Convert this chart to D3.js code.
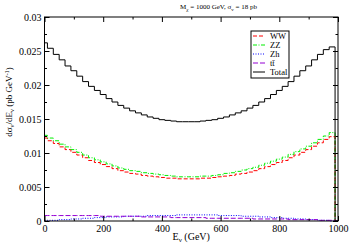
<!DOCTYPE html>
<html>
<head>
<meta charset="utf-8">
<script src="https://cdn.jsdelivr.net/npm/d3@7"></script>
<style>
  body { margin: 0; background: #fff; }
  svg { font-family: "Liberation Serif", "DejaVu Serif", serif; }
</style>
</head>
<body>
<script>
// energy bins (GeV), one point every 20 GeV, drawn as centred steps
const energies = d3.range(0, 1001, 20);

const total = [0.0262, 0.0254, 0.0245, 0.0237, 0.0228, 0.0221, 0.0213, 0.0205, 0.0198, 0.0192,
  0.0186, 0.0180, 0.0175, 0.0170, 0.0166, 0.0162, 0.0159, 0.0156, 0.0153, 0.0151,
  0.0149, 0.0148, 0.0147, 0.0146, 0.0146, 0.0146, 0.0146, 0.0147, 0.0148, 0.0149,
  0.0151, 0.0153, 0.0156, 0.0159, 0.0162, 0.0166, 0.0170, 0.0175, 0.0180, 0.0186,
  0.0192, 0.0198, 0.0205, 0.0213, 0.0221, 0.0228, 0.0237, 0.0245, 0.0252, 0.0256, 0];

const ww = [0.0122, 0.0118, 0.0114, 0.0109, 0.0105, 0.0101, 0.0097, 0.0093, 0.0089, 0.0086,
  0.0083, 0.0080, 0.0077, 0.0074, 0.0072, 0.0070, 0.0069, 0.0067, 0.0066, 0.0065,
  0.0064, 0.0063, 0.0063, 0.0062, 0.0062, 0.0062, 0.0062, 0.0063, 0.0063, 0.0064,
  0.0065, 0.0066, 0.0067, 0.0069, 0.0070, 0.0072, 0.0074, 0.0077, 0.0080, 0.0083,
  0.0086, 0.0089, 0.0093, 0.0097, 0.0101, 0.0105, 0.0110, 0.0115, 0.0120, 0.0124, 0];

const zz = [0.0126, 0.0122, 0.0118, 0.0113, 0.0109, 0.0105, 0.0101, 0.0097, 0.0093, 0.0090,
  0.0087, 0.0084, 0.0081, 0.0078, 0.0076, 0.0074, 0.0073, 0.0071, 0.0070, 0.0069,
  0.0068, 0.0067, 0.0066, 0.0065, 0.0065, 0.0065, 0.0065, 0.0066, 0.0066, 0.0067,
  0.0068, 0.0070, 0.0071, 0.0073, 0.0075, 0.0077, 0.0079, 0.0082, 0.0085, 0.0088,
  0.0091, 0.0094, 0.0098, 0.0102, 0.0106, 0.0110, 0.0115, 0.0120, 0.0125, 0.0130, 0];

const zh = [0.0001, 0.0001, 0.0001, 0.0002, 0.0002, 0.0003, 0.0003, 0.0004, 0.0004, 0.0005,
  0.0005, 0.0006, 0.0006, 0.0006, 0.0007, 0.0007, 0.0007, 0.0007, 0.0008, 0.0008,
  0.0008, 0.0008, 0.0008, 0.0009, 0.0009, 0.0009, 0.0009, 0.0009, 0.0009, 0.0009,
  0.0008, 0.0008, 0.0008, 0.0008, 0.0007, 0.0007, 0.0007, 0.0006, 0.0006, 0.0005,
  0.0005, 0.0004, 0.0004, 0.0003, 0.0003, 0.0002, 0.0002, 0.0001, 0.0001, 0.0000, 0];

const tt = [0.0008, 0.0008, 0.0008, 0.0008, 0.0008, 0.0008, 0.0008, 0.0008, 0.0008, 0.0008,
  0.0007, 0.0007, 0.0007, 0.0007, 0.0007, 0.0007, 0.0007, 0.0006, 0.0006, 0.0006,
  0.0006, 0.0006, 0.0005, 0.0005, 0.0005, 0.0005, 0.0005, 0.0005, 0.0004, 0.0004,
  0.0004, 0.0004, 0.0004, 0.0004, 0.0004, 0.0004, 0.0003, 0.0003, 0.0003, 0.0003,
  0.0003, 0.0003, 0.0002, 0.0002, 0.0002, 0.0002, 0.0002, 0.0001, 0.0001, 0.0001, 0];

const seriesNames = ["WW", "ZZ", "Zh", "tt\u0304", "Total"];
const xTicks = [0, 200, 400, 600, 800, 1000];
const xMinorTicks = [100, 300, 500, 700, 900];
const yTicks = [0, 0.005, 0.01, 0.015, 0.02, 0.025, 0.03];
const yTickLabels = ["0", "0.005", "0.01", "0.015", "0.02", "0.025", "0.03"];
const yMinorTicks = [0.0025, 0.0075, 0.0125, 0.0175, 0.0225, 0.0275];

const width = 349;
const height = 247;
const margin = { top: 17, right: 11, bottom: 26, left: 44.5 };

const svg = d3.select("body").append("svg")
  .attr("width", width)
  .attr("height", height);

const xScale = d3.scaleLinear()
  .domain([0, 1000])
  .range([margin.left, width - margin.right]);

const yScale = d3.scaleLinear()
  .domain([0, 0.03])
  .range([height - margin.bottom, margin.top]);

// styles for each curve
const styles = [
  { data: ww, color: "#ff0000", dash: "4,2" },
  { data: zz, color: "#00ee00", dash: "4,1.5,1,1.5" },
  { data: zh, color: "#0000ff", dash: "1,1.5" },
  { data: tt, color: "#9400d3", dash: "5,2" },
  { data: total, color: "#000000", dash: null }
];

const line = d3.line()
  .x(d => xScale(d[0]))
  .y(d => yScale(d[1]))
  .curve(d3.curveStep);

styles.forEach(s => {
  svg.append("path")
    .datum(energies.map((e, i) => [e, s.data[i]]))
    .attr("d", line)
    .attr("fill", "none")
    .attr("stroke", s.color)
    .attr("stroke-width", 1)
    .attr("stroke-dasharray", s.dash);
});

// frame
svg.append("rect")
  .attr("x", margin.left)
  .attr("y", margin.top)
  .attr("width", width - margin.left - margin.right)
  .attr("height", height - margin.top - margin.bottom)
  .attr("fill", "none")
  .attr("stroke", "#000")
  .attr("stroke-width", 1);

// axes, ticks pointing inward
function addAxis(axis, transform, labels) {
  const g = svg.append("g")
    .attr("transform", transform)
    .call(axis);
  g.select(".domain").remove();
  g.selectAll("text")
    .style("font-family", '"Liberation Serif", serif')
    .style("font-size", "10px")
    .attr("fill", "#000");
  if (!labels) g.selectAll("text").remove();
  return g;
}

const bottomY = height - margin.bottom;
const rightX = width - margin.right;

const xb = addAxis(d3.axisBottom(xScale).tickValues(xTicks).tickSize(-5).tickFormat(d3.format("d")),
  `translate(0,${bottomY})`, true);
xb.selectAll("text").attr("y", 4).attr("dy", "0.71em");
addAxis(d3.axisBottom(xScale).tickValues(xMinorTicks).tickSize(-2.5).tickFormat(""),
  `translate(0,${bottomY})`, false);
addAxis(d3.axisTop(xScale).tickValues(xTicks).tickSize(-5).tickFormat(""),
  `translate(0,${margin.top})`, false);
addAxis(d3.axisTop(xScale).tickValues(xMinorTicks).tickSize(-2.5).tickFormat(""),
  `translate(0,${margin.top})`, false);

const yl = addAxis(d3.axisLeft(yScale).tickValues(yTicks).tickSize(-5)
  .tickFormat((d, i) => yTickLabels[i]),
  `translate(${margin.left},0)`, true);
yl.selectAll("text").attr("x", -3);
addAxis(d3.axisLeft(yScale).tickValues(yMinorTicks).tickSize(-2.5).tickFormat(""),
  `translate(${margin.left},0)`, false);
addAxis(d3.axisRight(yScale).tickValues(yTicks).tickSize(-5).tickFormat(""),
  `translate(${rightX},0)`, false);
addAxis(d3.axisRight(yScale).tickValues(yMinorTicks).tickSize(-2.5).tickFormat(""),
  `translate(${rightX},0)`, false);

// title
const title = svg.append("text")
  .attr("x", 180)
  .attr("y", 9)
  .style("font-size", "7px");
title.append("tspan").text("M");
title.append("tspan").attr("dy", 1.5).style("font-size", "5px").text("\u03c7");
title.append("tspan").attr("dy", -1.5).text(" = 1000 GeV, \u03c3");
title.append("tspan").attr("dy", 1.5).style("font-size", "5px").text("v");
title.append("tspan").attr("dy", -1.5).text(" = 18 pb");

// x label
const xLabel = svg.append("text")
  .attr("x", xScale(500))
  .attr("y", 240)
  .attr("text-anchor", "middle")
  .style("font-size", "10px");
xLabel.append("tspan").text("E");
xLabel.append("tspan").attr("dy", 2).style("font-size", "7px").text("\u03bd");
xLabel.append("tspan").attr("dy", -2).text(" (GeV)");

// y label
const yLabel = svg.append("text")
  .attr("transform", "translate(12,102) rotate(-90)")
  .attr("text-anchor", "middle")
  .style("font-size", "9px");
yLabel.append("tspan").text("d\u03c3");
yLabel.append("tspan").attr("dy", 2).style("font-size", "6.5px").text("\u03bd");
yLabel.append("tspan").attr("dy", -2).text("/dE");
yLabel.append("tspan").attr("dy", 2).style("font-size", "6.5px").text("\u03bd");
yLabel.append("tspan").attr("dy", -2).text(" (pb GeV");
yLabel.append("tspan").attr("dy", -3).style("font-size", "6.5px").text("-1");
yLabel.append("tspan").attr("dy", 3).text(")");

// legend
const legend = svg.append("g").attr("transform", "translate(251,31)");
legend.append("rect")
  .attr("width", 38)
  .attr("height", 47)
  .attr("fill", "#fff")
  .attr("stroke", "#000")
  .attr("stroke-width", 1);

seriesNames.forEach((name, i) => {
  const y = 5 + i * 9;
  legend.append("line")
    .attr("x1", 2).attr("x2", 14)
    .attr("y1", y).attr("y2", y)
    .attr("stroke", styles[i].color)
    .attr("stroke-width", 1)
    .attr("stroke-dasharray", styles[i].dash);
  legend.append("text")
    .attr("x", 19)
    .attr("y", y + 3)
    .style("font-size", "8.5px")
    .text(name);
});
</script>
</body>
</html>
